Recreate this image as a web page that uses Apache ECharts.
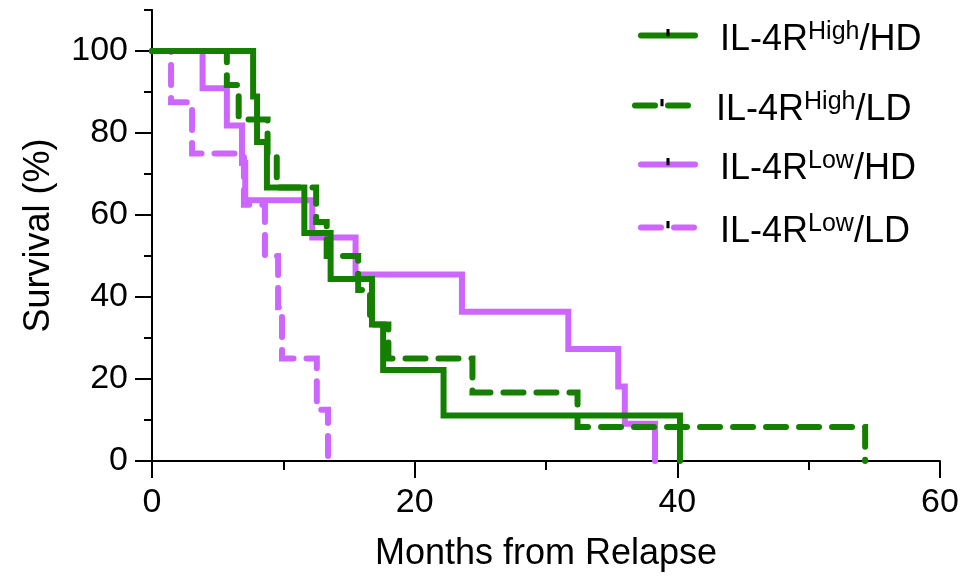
<!DOCTYPE html>
<html>
<head>
<meta charset="utf-8">
<title>Survival</title>
<script src="https://cdn.jsdelivr.net/npm/echarts@6/dist/echarts.min.js"></script>
<style>
	html, body { margin: 0; padding: 0; background: #fff; }
	#container { width: 976px; height: 579px; }
</style>
</head>
<body>
<div id="container"></div>
<script>
// months from relapse where each curve steps down, and survival (%) after the step
var highHdMonths = [0, 7.7, 8.0, 8.75, 11.6, 13.6, 16.75, 17.6, 22.2, 40.2];
var highHdSurvival = [100, 88.9, 77.8, 66.7, 55.6, 44.4, 33.3, 22.2, 11.1, 0];

var highLdMonths = [0, 5.7, 6.6, 8.8, 9.5, 12.5, 13.3, 15.7, 16.6, 18.0, 24.4, 32.4, 54.3];
var highLdSurvival = [100, 91.7, 83.3, 75, 66.7, 58.3, 50, 41.7, 33.3, 25, 16.7, 8.3, 0];

var lowHdMonths = [0, 3.85, 5.7, 6.85, 7.1, 12.2, 15.5, 23.6, 31.7, 35.5, 36.0, 38.3];
var lowHdSurvival = [100, 90.9, 81.8, 72.7, 63.6, 54.5, 45.5, 36.4, 27.3, 18.2, 9.1, 0];

var lowLdMonths = [0, 1.45, 3.05, 7.0, 8.6, 9.6, 9.9, 12.55, 13.4];
var lowLdSurvival = [100, 87.5, 75, 62.5, 50, 37.5, 25, 12.5, 0];

var xTicks = [0, 20, 40, 60];
var yTicks = [0, 20, 40, 60, 80, 100];

var seriesNames = ['IL-4R High/HD', 'IL-4R High/LD', 'IL-4R Low/HD', 'IL-4R Low/LD'];
var legendLabels = [
	'{a|IL-4R}{s|High}{a|/HD}',
	'{a|IL-4R}{s|High}{a|/LD}',
	'{a|IL-4R}{s|Low}{a|/HD}',
	'{a|IL-4R}{s|Low}{a|/LD}'
];

var GREEN = '#158000';
var PURPLE = '#cc66ff';
var FONT = 'Liberation Sans, Arial, sans-serif';
// small censor tick shown in the legend (square box so it keeps its shape)
var TICK = 'path://M3.8,0 H6.2 V5.5 H3.8 Z M0,0 L10,0 M0,10 L10,10';

function zip(xs, ys) {
	var out = [];
	for (var i = 0; i < xs.length; i++) {
		out.push([xs[i], ys[i]]);
	}
	return out;
}

function makeSeries(name, months, surv, color, dashed) {
	return {
		name: name,
		type: 'line',
		step: 'end',
		data: zip(months, surv),
		showSymbol: false,
		symbol: TICK,
		itemStyle: { color: '#000', borderWidth: 0 },
		lineStyle: {
			color: color,
			width: 6,
			type: dashed ? [20, 13] : 'solid',
			cap: 'round',
			join: 'miter'
		},
		emphasis: { disabled: true },
		animation: false
	};
}

function makeLegend(i, left, top, gap) {
	return {
		data: [seriesNames[i]],
		left: left,
		top: top,
		padding: 0,
		itemWidth: 54,
		itemHeight: 16,
		selectedMode: false,
		itemStyle: { borderWidth: 0 },
		lineStyle: { width: 6, cap: 'round' },
		formatter: function () { return legendLabels[i]; },
		textStyle: {
			padding: [9, 0, 0, gap],
			rich: {
				a: { fontSize: 36, lineHeight: 40, color: '#000', fontFamily: FONT },
				s: { fontSize: 25, lineHeight: 27, color: '#000', fontFamily: FONT, verticalAlign: 'top' }
			}
		}
	};
}

var chart = echarts.init(document.getElementById('container'), null, { renderer: 'canvas' });

var option = {
	backgroundColor: '#fff',
	animation: false,
	grid: { left: 152, right: 36, top: 10, bottom: 118, containLabel: false },
	legend: [
		makeLegend(0, 638, 20, 20),
		makeLegend(1, 632, 90, 22),
		makeLegend(2, 638, 149, 20),
		makeLegend(3, 638, 212, 20)
	],
	xAxis: {
		type: 'value',
		min: 0,
		max: 60,
		interval: 20,
		splitLine: { show: false },
		axisLine: { lineStyle: { color: '#000', width: 2 } },
		axisTick: { length: 17, lineStyle: { color: '#000', width: 2 } },
		minorTick: { show: true, splitNumber: 2, length: 9, lineStyle: { color: '#000', width: 2 } },
		axisLabel: { fontSize: 34, color: '#000', fontFamily: FONT, margin: 25, customValues: xTicks },
		name: 'Months from Relapse',
		nameLocation: 'middle',
		nameGap: 75,
		nameTextStyle: { fontSize: 36, color: '#000', fontFamily: FONT }
	},
	yAxis: [{
		// minor ticks every 10 up to the top of the axis
		type: 'value',
		min: 0,
		max: 110,
		interval: 10,
		splitLine: { show: false },
		axisLine: { lineStyle: { color: '#000', width: 2 } },
		axisTick: { length: 8, lineStyle: { color: '#000', width: 2 } },
		axisLabel: { show: false },
		name: 'Survival (%)',
		nameLocation: 'middle',
		nameGap: 95,
		nameTextStyle: { fontSize: 36, color: '#000', fontFamily: FONT }
	}, {
		// major ticks and labels
		type: 'value',
		position: 'left',
		min: 0,
		max: 110,
		interval: 20,
		splitLine: { show: false },
		axisLine: { show: true, lineStyle: { color: '#000', width: 2 } },
		axisTick: { length: 17, customValues: yTicks, lineStyle: { color: '#000', width: 2 } },
		axisLabel: { fontSize: 34, color: '#000', fontFamily: FONT, margin: 24, customValues: yTicks }
	}],
	series: [
		makeSeries(seriesNames[3], lowLdMonths, lowLdSurvival, PURPLE, true),
		makeSeries(seriesNames[2], lowHdMonths, lowHdSurvival, PURPLE, false),
		makeSeries(seriesNames[0], highHdMonths, highHdSurvival, GREEN, false),
		makeSeries(seriesNames[1], highLdMonths, highLdSurvival, GREEN, true)
	]
};
chart.setOption(option);
</script>
</body>
</html>
